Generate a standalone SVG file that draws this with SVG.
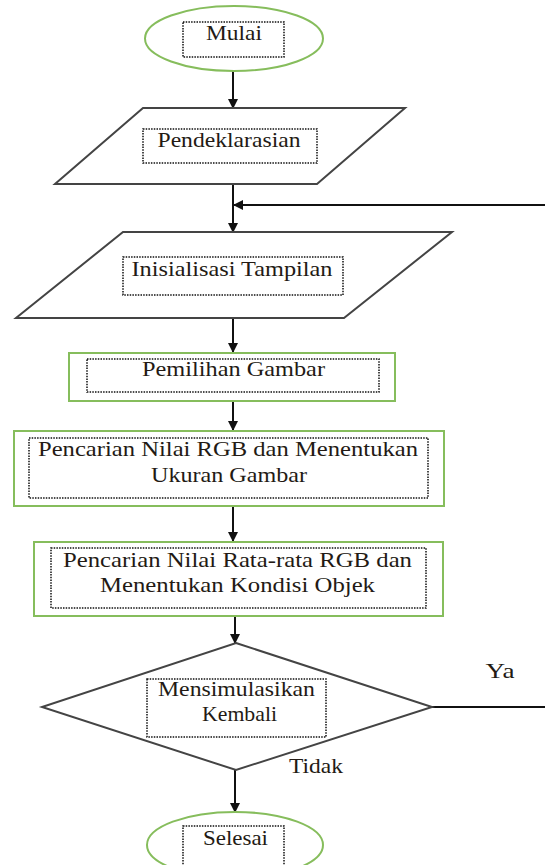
<svg xmlns="http://www.w3.org/2000/svg" width="545" height="865" viewBox="0 0 545 865" font-family="'Liberation Serif', 'Times New Roman', Times, serif">
<style>
text{font-family:"Liberation Serif","Times New Roman",Times,serif}
.t{font-size:21px;fill:#231a14;text-anchor:middle}
.g{fill:#fff;stroke:#86bd5c;stroke-width:2}
.k{fill:#fff;stroke:#444;stroke-width:2}
.d{fill:none;stroke:#111;stroke-width:1.5;stroke-dasharray:1.5 1.2}
.c{fill:none;stroke:#111;stroke-width:2}
</style>
<defs>
<marker id="ah" markerWidth="10" markerHeight="10" refX="9" refY="5" orient="auto" markerUnits="userSpaceOnUse">
<path d="M0,0 L10,5 L0,10 Z" fill="#111"/>
</marker>
</defs>
<rect width="545" height="865" fill="#fff"/>
<g id="connectors">
<line class="c" x1="233" y1="71" x2="233" y2="108" marker-end="url(#ah)"/>
<line class="c" x1="233" y1="184" x2="233" y2="232" marker-end="url(#ah)"/>
<path class="c" d="M432,707 H560 V205 H234" marker-end="url(#ah)"/>
<line class="c" x1="233" y1="319" x2="233" y2="352" marker-end="url(#ah)"/>
<line class="c" x1="233" y1="401" x2="233" y2="430" marker-end="url(#ah)"/>
<line class="c" x1="233" y1="506" x2="233" y2="541" marker-end="url(#ah)"/>
<line class="c" x1="235" y1="616" x2="235" y2="643" marker-end="url(#ah)"/>
<line class="c" x1="235" y1="770" x2="235" y2="812" marker-end="url(#ah)"/>
<text class="t" x="500" y="678" textLength="29" lengthAdjust="spacingAndGlyphs">Ya</text>
<text class="t" x="316" y="773" textLength="54" lengthAdjust="spacingAndGlyphs">Tidak</text>
</g>
<g id="mulai">
<ellipse class="g" cx="234" cy="38.5" rx="89" ry="32.5"/>
<rect class="d" x="183" y="22" width="101" height="35"/>
<text class="t" x="234" y="40" textLength="56" lengthAdjust="spacingAndGlyphs">Mulai</text>
</g>
<g id="pendeklarasian">
<polygon class="k" points="143,108 405,108 317,184 55,184"/>
<rect class="d" x="143" y="129" width="174" height="34"/>
<text class="t" x="229" y="147" textLength="143" lengthAdjust="spacingAndGlyphs">Pendeklarasian</text>
</g>
<g id="inisialisasi">
<polygon class="k" points="123,232 452,232 344,318 16,318"/>
<rect class="d" x="123" y="257" width="220" height="38"/>
<text class="t" x="232" y="276" textLength="201" lengthAdjust="spacingAndGlyphs">Inisialisasi  Tampilan</text>
</g>
<g id="pemilihan">
<rect class="g" x="69" y="353" width="326" height="48"/>
<rect class="d" x="87" y="359" width="292" height="33"/>
<text class="t" x="233.5" y="376" textLength="183" lengthAdjust="spacingAndGlyphs">Pemilihan  Gambar</text>
</g>
<g id="pencarian-rgb">
<rect class="g" x="14" y="431" width="430" height="75"/>
<rect class="d" x="29" y="438" width="399" height="60"/>
<text class="t" x="228" y="456" textLength="380" lengthAdjust="spacingAndGlyphs">Pencarian  Nilai RGB dan Menentukan</text>
<text class="t" x="229" y="482" textLength="156" lengthAdjust="spacingAndGlyphs">Ukuran Gambar</text>
</g>
<g id="pencarian-rata">
<rect class="g" x="34" y="542" width="409" height="74"/>
<rect class="d" x="51" y="548" width="375" height="60"/>
<text class="t" x="237.5" y="567" textLength="349" lengthAdjust="spacingAndGlyphs">Pencarian  Nilai Rata-rata  RGB dan</text>
<text class="t" x="237.5" y="592" textLength="275" lengthAdjust="spacingAndGlyphs">Menentukan  Kondisi Objek</text>
</g>
<g id="keputusan">
<polygon class="k" points="236,643 432,707 236,770 42,707"/>
<rect class="d" x="147" y="679" width="179" height="58"/>
<text class="t" x="236.5" y="696" textLength="157" lengthAdjust="spacingAndGlyphs">Mensimulasikan</text>
<text class="t" x="239.5" y="721" textLength="75" lengthAdjust="spacingAndGlyphs">Kembali</text>
</g>
<g id="selesai">
<ellipse class="g" cx="235" cy="845" rx="88" ry="33"/>
<rect class="d" x="183" y="826" width="101" height="45"/>
<text class="t" x="235.5" y="845" textLength="65" lengthAdjust="spacingAndGlyphs">Selesai</text>
</g>
</svg>
